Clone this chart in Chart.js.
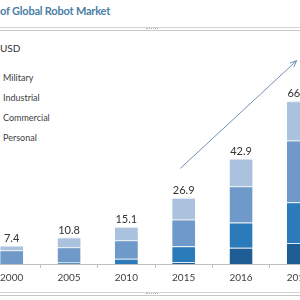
<!DOCTYPE html>
<html>
<head>
<meta charset="utf-8">
<script src="https://cdn.jsdelivr.net/npm/chart.js@4/dist/chart.umd.min.js"></script>
<style>
  html,body{margin:0;padding:0;background:#fff;width:300px;height:300px;overflow:hidden;font-family:Lato,'Open Sans',sans-serif;}
  #title{position:absolute;left:0;top:4px;font-size:11px;font-weight:bold;color:#4a7ea6;white-space:nowrap;letter-spacing:-0.2px;}
  .sep{position:absolute;left:0;width:300px;height:2px;border-top:1px solid #d4d4d4;border-bottom:1px solid #c8c8c8;}
  .grip{position:absolute;left:146px;width:12px;height:0;border-top:1px dotted #b0b0b0;}
  #unit{position:absolute;left:0;top:42px;font-size:10px;color:#333;}
  .leg{position:absolute;left:3px;font-size:9px;color:#404040;white-space:nowrap;}
  #wrap{position:absolute;left:-17px;top:43px;width:344px;height:245px;}
</style>
</head>
<body>
<div id="title">of Global Robot Market</div>
<div class="sep" style="top:27px"></div><div class="grip" style="top:28px"></div>
<div class="sep" style="top:292px"></div><div class="grip" style="top:293px"></div>
<div id="unit">USD</div>
<div id="legend"></div>
<div id="wrap"><canvas id="c"></canvas></div>
<script>
// values in billion USD
const years      = ['2000','2005','2010','2015','2016','2017'];
const personal   = [0,   0,   0,   0.8, 6.6,  8.6];
const commercial = [0,   0.6, 2.1, 6.4, 10.3, 16.5];
const industrial = [5.6, 6.2, 7.6, 10.9, 14.8, 25.2];
const military   = [1.8, 4.0, 5.4, 8.8, 11.2, 16.0];
const totals     = [7.4, 10.8, 15.1, 26.9, 42.9, 66.3];
const legendNames = ['Military','Industrial','Commercial','Personal'];
// trend arrow, in (category index, value) space
const arrowFrom = [2.94, 38.9];
const arrowTo   = [4.97, 82.8];

legendNames.forEach((n,i)=>{
  const d = document.createElement('div');
  d.className = 'leg';
  d.style.top = (72 + i*20) + 'px';
  d.textContent = n;
  document.getElementById('legend').appendChild(d);
});

const sepColor = 'rgba(225,235,246,0.9)';
function ds(label, data, color){
  return { label, data, backgroundColor:color, borderColor:sepColor,
           borderWidth:{top:1,bottom:0,left:0,right:0}, borderSkipped:false,
           barPercentage:0.4, categoryPercentage:1, stack:'s' };
}

const extras = {
  id:'extras',
  beforeDatasetsDraw(chart){
    const ctx = chart.ctx;
    ctx.save();
    ctx.shadowColor = 'rgba(0,0,0,0.18)';
    ctx.shadowOffsetX = 1.5; ctx.shadowOffsetY = 1;
    ctx.shadowBlur = 2;
  },
  afterDatasetsDraw(chart){
    const ctx = chart.ctx;
    ctx.restore();
    const x = chart.scales.x, y = chart.scales.y;
    ctx.save();
    ctx.fillStyle = '#333';
    ctx.font = '11px Lato, "Open Sans", sans-serif';
    ctx.textAlign = 'center';
    ctx.textBaseline = 'bottom';
    totals.forEach((t,i)=>{
      ctx.fillText(t.toFixed(1), x.getPixelForValue(i), y.getPixelForValue(t) - 2);
    });
    // trend arrow
    const x1 = x.getPixelForValue(arrowFrom[0]), y1 = y.getPixelForValue(arrowFrom[1]);
    const x2 = x.getPixelForValue(arrowTo[0]),   y2 = y.getPixelForValue(arrowTo[1]);
    ctx.strokeStyle = '#6f8fb3';
    ctx.lineWidth = 1;
    ctx.beginPath(); ctx.moveTo(x1,y1); ctx.lineTo(x2,y2); ctx.stroke();
    const a = Math.atan2(y2-y1, x2-x1), h = 7;
    ctx.beginPath();
    ctx.moveTo(x2 - h*Math.cos(a-0.4), y2 - h*Math.sin(a-0.4));
    ctx.lineTo(x2,y2);
    ctx.lineTo(x2 - h*Math.cos(a+0.4), y2 - h*Math.sin(a+0.4));
    ctx.stroke();
    ctx.restore();
  }
};

new Chart(document.getElementById('c'), {
  type:'bar',
  data:{ labels:years, datasets:[
    ds('Personal', personal, '#1f5e94'),
    ds('Commercial', commercial, '#2b7aba'),
    ds('Industrial', industrial, '#6e99c9'),
    ds('Military', military, '#abc2df')
  ]},
  options:{
    responsive:true, maintainAspectRatio:false, animation:false,
    layout:{ padding:0 },
    plugins:{ legend:{display:false}, tooltip:{enabled:false} },
    scales:{
      x:{ stacked:true, offset:true,
          grid:{ offset:true, drawOnChartArea:false, drawTicks:true, tickLength:4, color:'#bfbfbf' },
          border:{ color:'#bfbfbf' },
          ticks:{ color:'#404040', font:{ family:'Lato', size:10 }, padding:4, maxRotation:0 } },
      y:{ stacked:true, display:false, min:0, max:90 }
    }
  },
  plugins:[extras]
});
</script>
</body>
</html>
